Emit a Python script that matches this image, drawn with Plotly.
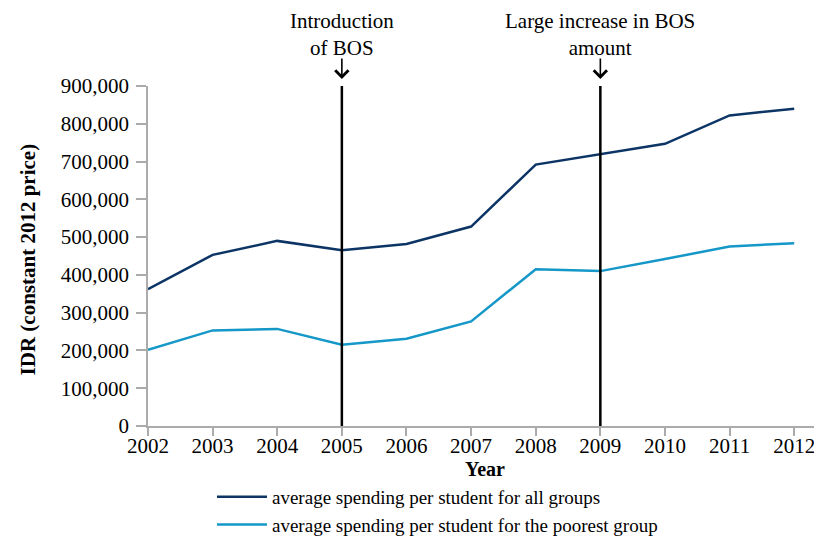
import plotly.graph_objects as go

years = [2002, 2003, 2004, 2005, 2006, 2007, 2008, 2009, 2010, 2011, 2012]
all_groups = [362000, 453000, 490000, 465000, 482000, 528000, 692000, 720000, 747000, 822000, 840000]
poorest = [202000, 253000, 257000, 215000, 231000, 277000, 415000, 410000, 442000, 475000, 484000]
series_names = ["average spending per student for all groups",
                "average spending per student for the poorest group"]
events_x = [2005, 2009]
events_text = ["Introduction<br>of BOS", "Large increase in BOS<br>amount"]
y_ticks = [0, 100000, 200000, 300000, 400000, 500000, 600000, 700000, 800000, 900000]
y_ticklabels = ["0", "100,000", "200,000", "300,000", "400,000", "500,000",
                "600,000", "700,000", "800,000", "900,000"]
y_title = "IDR (constant 2012 price)"
x_title = "Year"

FONT = "Liberation Serif"
DARK = "#0c3566"
LIGHT = "#1597c8"
AXIS = "#ababab"

# page body has an 8px default margin, so the figure is sized to fit the window
W, H = 814, 531
L, T, B = 140, 78, 113

fig = go.Figure()
fig.add_trace(go.Scatter(x=years, y=all_groups, mode="lines", name=series_names[0],
                         line=dict(color=DARK, width=2.5)))
fig.add_trace(go.Scatter(x=years, y=poorest, mode="lines", name=series_names[1],
                         line=dict(color=LIGHT, width=2.5)))

for ex, et in zip(events_x, events_text):
    fig.add_shape(type="line", xref="x", yref="y", x0=ex, x1=ex, y0=0, y1=y_ticks[-1],
                  line=dict(color="black", width=2.5), layer="above")
    fig.add_annotation(x=ex, xref="x", y=1, yref="paper", yshift=7, ax=0, ay=-22,
                       showarrow=True, arrowhead=4, arrowsize=1.6, arrowwidth=1.6,
                       arrowcolor="black", text="")
    fig.add_annotation(x=ex, xref="x", y=1, yref="paper", yshift=24, yanchor="bottom",
                       showarrow=False, text=et, align="center",
                       font=dict(family=FONT, size=21, color="black"))

# y-axis title as rotated text
fig.add_annotation(x=0, xref="paper", xshift=-(L - 20), xanchor="center",
                   y=0.49, yref="paper", yanchor="middle", textangle=-90,
                   showarrow=False, text="<b>" + y_title + "</b>",
                   font=dict(family=FONT, size=21, color="black"))

fig.update_layout(
    width=W, height=H,
    margin=dict(l=L, r=0, t=T, b=B, autoexpand=False),
    paper_bgcolor="white", plot_bgcolor="white",
    font=dict(family=FONT, size=20, color="black"),
    showlegend=True,
    legend=dict(x=204 / W, xref="container", xanchor="left",
                y=1 - 470 / H, yref="container", yanchor="top", orientation="v",
                font=dict(family=FONT, size=19), tracegroupgap=0, itemwidth=50,
                bgcolor="rgba(0,0,0,0)"),
)
fig.update_xaxes(range=[2002, 2012.43], tickvals=years, ticktext=[str(y) for y in years],
                 showline=True, linecolor=AXIS, linewidth=1.5, ticks="outside",
                 tickcolor=AXIS, ticklen=8, tickwidth=1.5, showgrid=False, zeroline=False,
                 ticklabelstandoff=-8,
                 tickfont=dict(family=FONT, size=21),
                 title=dict(text="<b>" + x_title + "</b>", font=dict(family=FONT, size=20), standoff=1))
fig.update_yaxes(range=[0, 900000], tickvals=y_ticks, ticktext=y_ticklabels,
                 showline=True, linecolor=AXIS, linewidth=1.5, ticks="outside",
                 tickcolor=AXIS, ticklen=10, tickwidth=1.5, showgrid=False, zeroline=False,
                 ticklabelstandoff=3,
                 tickfont=dict(family=FONT, size=21))

fig.write_html("out.html")
